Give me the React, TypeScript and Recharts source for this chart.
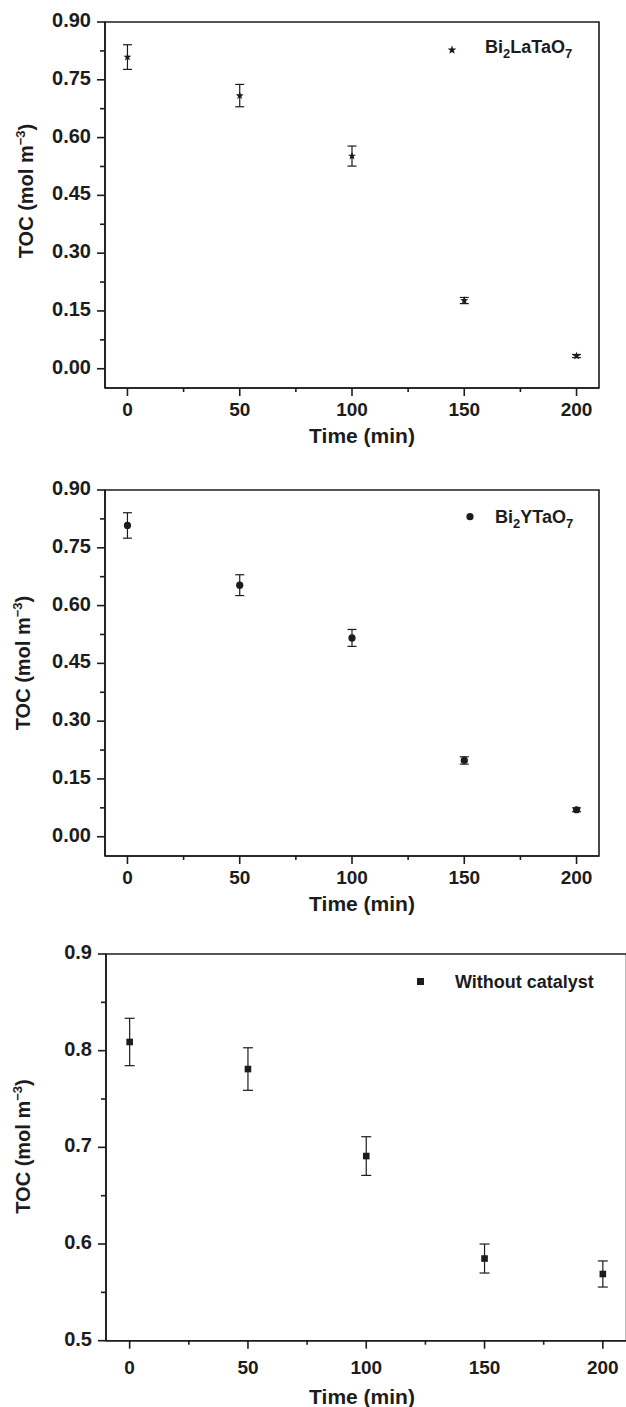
import React from "react";
import {
  ScatterChart,
  Scatter,
  XAxis,
  YAxis,
  ErrorBar,
  ReferenceArea,
  Legend,
} from "recharts";

// Sampling times (min)
const times = [0, 50, 100, 150, 200];
const xMajor = [0, 50, 100, 150, 200];
const xMinor = [25, 75, 125, 175];

// TOC (mol m-3) and error bars
const laTaToc = [0.809, 0.709, 0.552, 0.177, 0.033];
const laTaErr = [0.032, 0.029, 0.026, 0.008, 0.004];
const yTaToc = [0.808, 0.653, 0.516, 0.198, 0.07];
const yTaErr = [0.033, 0.027, 0.022, 0.0095, 0.005];
const blankToc = [0.809, 0.781, 0.691, 0.585, 0.569];
const blankErr = [0.0245, 0.022, 0.02, 0.015, 0.0135];

// y ticks for the two catalyst panels
const yMajorA = [0, 0.15, 0.3, 0.45, 0.6, 0.75, 0.9];
const yMinorA = [0.075, 0.225, 0.375, 0.525, 0.675, 0.825];
const yLabelsA = ["0.00", "0.15", "0.30", "0.45", "0.60", "0.75", "0.90"];

// y ticks for the blank panel
const yMajorB = [0.5, 0.6, 0.7, 0.8, 0.9];
const yMinorB = [0.55, 0.65, 0.75, 0.85];
const yLabelsB = ["0.5", "0.6", "0.7", "0.8", "0.9"];

const INK = "#1c1c1c";
const FONT = "'Liberation Sans', Arial, Helvetica, sans-serif";

const toRows = (toc: number[], err: number[]) =>
  times.map((t, i) => ({ time: t, toc: toc[i], err: err[i] }));

// markers
function StarMark({ cx, cy, r = 4.2 }: any) {
  const pts: string[] = [];
  for (let k = 0; k < 10; k++) {
    const rad = k % 2 === 0 ? r : r * 0.42;
    const a = -Math.PI / 2 + (k * Math.PI) / 5;
    pts.push(`${cx + rad * Math.cos(a)},${cy + rad * Math.sin(a)}`);
  }
  return <polygon points={pts.join(" ")} fill={INK} />;
}
function DotMark({ cx, cy }: any) {
  return <circle cx={cx} cy={cy} r={3.6} fill={INK} />;
}
function SquareMark({ cx, cy }: any) {
  return <rect x={cx - 3.3} y={cy - 3.3} width={6.6} height={6.6} fill={INK} />;
}

function XTick({ x, y, payload, labelDy }: any) {
  const i = xMajor.indexOf(payload.value);
  const major = i >= 0;
  return (
    <g>
      <line x1={x} x2={x} y1={y} y2={y + (major ? 8 : 4)} stroke={INK} strokeWidth={1.6} />
      {major && (
        <text x={x} y={y + labelDy} textAnchor="middle" fill={INK}
          style={{ fontFamily: FONT, fontWeight: 700, fontSize: 19 }}>
          {xMajor[i]}
        </text>
      )}
    </g>
  );
}

function YTick({ x, y, payload, majors, labels }: any) {
  const i = majors.indexOf(payload.value);
  const major = i >= 0;
  return (
    <g>
      <line x1={x} x2={x - (major ? 8 : 5)} y1={y} y2={y} stroke={INK} strokeWidth={1.6} />
      {major && (
        <text x={x - 14} y={y + 5} textAnchor="end" fill={INK}
          style={{ fontFamily: FONT, fontWeight: 700, fontSize: 20 }}>
          {labels[i]}
        </text>
      )}
    </g>
  );
}

function XTitle({ cx, baseline }: any) {
  return (
    <text x={cx} y={baseline} textAnchor="middle" fill={INK}
      style={{ fontFamily: FONT, fontWeight: 700, fontSize: 21 }}>
      Time (min)
    </text>
  );
}

function YTitle({ bx, cy }: any) {
  return (
    <text x={bx} y={cy} textAnchor="middle" transform={`rotate(-90 ${bx} ${cy})`} fill={INK}
      style={{ fontFamily: FONT, fontWeight: 700, fontSize: 20 }}>
      TOC (mol m<tspan dy={-8} fontSize={13}>−3</tspan>
      <tspan dy={8}>)</tspan>
    </text>
  );
}

function LegendKey({ marker, text, tx, ty }: any) {
  return (
    <svg width={220} height={34} style={{ overflow: "visible" }}>
      {marker}
      <text x={tx} y={ty} fill={INK} style={{ fontFamily: FONT, fontWeight: 700, fontSize: 18 }}>
        {text}
      </text>
    </svg>
  );
}

type PanelProps = {
  top: number;
  width: number;
  height: number;
  marginRight: number;
  axisWidth: number;
  axisHeight: number;
  rows: { time: number; toc: number; err: number }[];
  yDomain: [number, number];
  yMajor: number[];
  yMinor: number[];
  yLabels: string[];
  shape: (p: any) => React.ReactElement;
  legendLeft: number;
  legend: React.ReactElement;
  tickDy: number;
  titleBaseline: number;
  yTitleX: number;
  yTitleY: number;
  capWidth: number;
};

function Panel(p: PanelProps) {
  const yTicks = [...p.yMajor, ...p.yMinor].sort((a, b) => a - b);
  const xTicks = [...xMajor, ...xMinor].sort((a, b) => a - b);
  return (
    <div style={{ position: "absolute", left: 0, top: p.top }}>
      <ScatterChart
        width={p.width}
        height={p.height}
        margin={{ top: 22, right: p.marginRight, bottom: 0, left: 0 }}
      >
        <XAxis
          type="number"
          dataKey="time"
          domain={[-10, 210]}
          ticks={xTicks}
          interval={0}
          allowDataOverflow
          height={p.axisHeight}
          tickSize={0}
          tickMargin={0}
          axisLine={{ stroke: INK, strokeWidth: 1.6 }}
          tick={(t: any) => <XTick {...t} labelDy={p.tickDy} />}
          label={<XTitle cx={362} baseline={p.titleBaseline} />}
        />
        <YAxis
          type="number"
          dataKey="toc"
          domain={p.yDomain}
          ticks={yTicks}
          interval={0}
          allowDataOverflow
          width={p.axisWidth}
          tickSize={0}
          tickMargin={0}
          axisLine={{ stroke: INK, strokeWidth: 1.6 }}
          tick={(t: any) => <YTick {...t} majors={p.yMajor} labels={p.yLabels} />}
          label={<YTitle bx={p.yTitleX} cy={p.yTitleY} />}
        />
        <ReferenceArea
          x1={-10}
          x2={210}
          y1={p.yDomain[0]}
          y2={p.yDomain[1]}
          fill="none"
          stroke={INK}
          strokeWidth={1.6}
        />
        <Legend
          layout="vertical"
          align="center"
          verticalAlign="middle"
          wrapperStyle={{ left: p.legendLeft, top: 30, width: 220 }}
          content={() => p.legend}
        />
        <Scatter data={p.rows} shape={p.shape} isAnimationActive={false}>
          <ErrorBar dataKey="err" direction="y" width={p.capWidth} stroke={INK} strokeWidth={1.2} />
        </Scatter>
      </ScatterChart>
    </div>
  );
}

export default function App() {
  return (
    <div
      style={{
        position: "absolute",
        left: 0,
        top: 0,
        width: 626,
        height: 1407,
        overflow: "hidden",
        background: "#fff",
      }}
    >
      <Panel
        top={0}
        width={626}
        height={450}
        marginRight={27}
        axisWidth={105}
        axisHeight={62}
        rows={toRows(laTaToc, laTaErr)}
        yDomain={[-0.05, 0.9]}
        yMajor={yMajorA}
        yMinor={yMinorA}
        yLabels={yLabelsA}
        shape={(s: any) => <StarMark cx={s.cx} cy={s.cy} />}
        legendLeft={440}
        legend={
          <LegendKey
            marker={<StarMark cx={12} cy={20} r={4.6} />}
            tx={45}
            ty={23}
            text={
              <>
                Bi<tspan dy={5} fontSize={13}>2</tspan>
                <tspan dy={-5}>LaTaO</tspan>
                <tspan dy={5} fontSize={13}>7</tspan>
              </>
            }
          />
        }
        tickDy={28}
        titleBaseline={443}
        yTitleX={33}
        yTitleY={191}
        capWidth={4.5}
      />
      <Panel
        top={468}
        width={626}
        height={450}
        marginRight={27}
        axisWidth={105}
        axisHeight={62}
        rows={toRows(yTaToc, yTaErr)}
        yDomain={[-0.05, 0.9]}
        yMajor={yMajorA}
        yMinor={yMinorA}
        yLabels={yLabelsA}
        shape={(s: any) => <DotMark cx={s.cx} cy={s.cy} />}
        legendLeft={458}
        legend={
          <LegendKey
            marker={<DotMark cx={12} cy={18.7} />}
            tx={37}
            ty={25}
            text={
              <>
                Bi<tspan dy={5} fontSize={13}>2</tspan>
                <tspan dy={-5}>YTaO</tspan>
                <tspan dy={5} fontSize={13}>7</tspan>
              </>
            }
          />
        }
        tickDy={28}
        titleBaseline={443}
        yTitleX={30}
        yTitleY={195}
        capWidth={4.5}
      />
      <Panel
        top={932}
        width={640}
        height={475}
        marginRight={13.5}
        axisWidth={106}
        axisHeight={66.3}
        rows={toRows(blankToc, blankErr)}
        yDomain={[0.5, 0.9]}
        yMajor={yMajorB}
        yMinor={yMinorB}
        yLabels={yLabelsB}
        shape={(s: any) => <SquareMark cx={s.cx} cy={s.cy} />}
        legendLeft={408}
        legend={
          <LegendKey
            marker={<rect x={9} y={16} width={7} height={7} fill={INK} />}
            tx={47}
            ty={25.5}
            text="Without catalyst"
          />
        }
        tickDy={33}
        titleBaseline={472}
        yTitleX={30}
        yTitleY={214.5}
        capWidth={5}
      />
    </div>
  );
}
